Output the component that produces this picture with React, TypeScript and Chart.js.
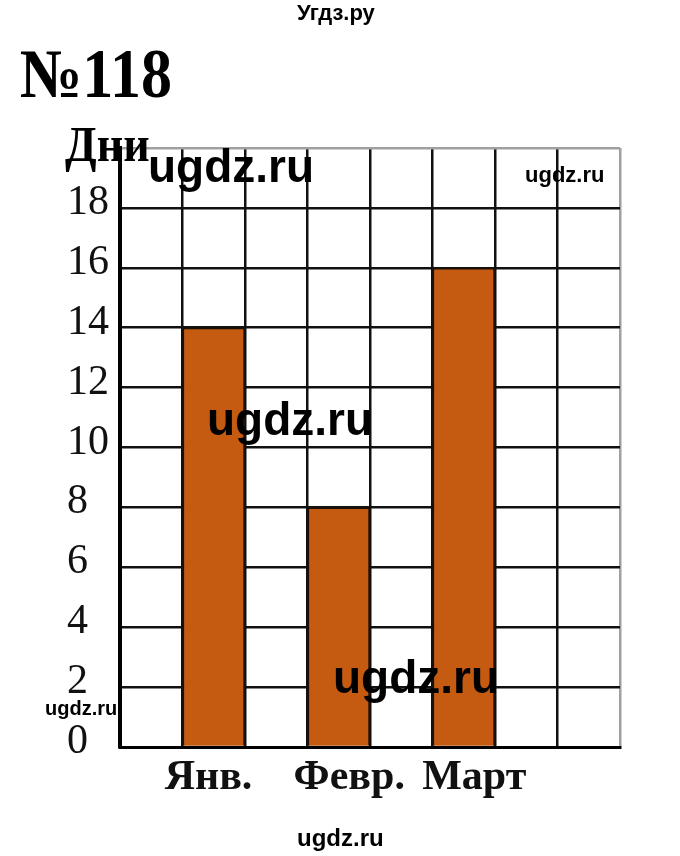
import { useEffect, useRef } from 'react';
import Chart from 'chart.js/auto';

// 8 grid columns, the bars sit in columns 2, 4 and 6
const months = ['', 'Янв.', '', 'Февр.', '', 'Март', '', ''];
const days = [null, 14, null, 8, null, 16, null, null];
const yMax = 20;
const yStep = 2;

const SERIF = '"Liberation Serif", "DejaVu Serif", serif';
const SANS = '"Liberation Sans", Arial, sans-serif';

interface LabelProps {
  text: string;
  x: number;
  y: number;
  size: number;
  family: string;
  bold?: boolean;
  stretch?: number;
}

function Label({ text, x, y, size, family, bold = true, stretch = 1 }: LabelProps) {
  return (
    <div
      style={{
        position: 'absolute',
        left: x,
        top: y,
        fontFamily: family,
        fontSize: size,
        fontWeight: bold ? 700 : 400,
        lineHeight: 1,
        whiteSpace: 'nowrap',
        color: '#000',
        transform: stretch !== 1 ? `scaleY(${stretch})` : undefined,
        transformOrigin: 'left top',
      }}
    >
      {text}
    </div>
  );
}

export default function App() {
  const canvasRef = useRef<HTMLCanvasElement | null>(null);

  useEffect(() => {
    if (!canvasRef.current) return;
    const chart = new Chart(canvasRef.current, {
      type: 'bar',
      data: {
        labels: months,
        datasets: [
          {
            label: 'Дни',
            data: days,
            backgroundColor: '#C55A11',
            borderColor: '#1c1008',
            borderWidth: 2,
            barPercentage: 1,
            categoryPercentage: 1,
          },
        ],
      },
      options: {
        animation: false,
        responsive: false,
        layout: { padding: { top: 148, right: 60, bottom: 0, left: 67 } },
        plugins: { legend: { display: false }, tooltip: { enabled: false } },
        scales: {
          x: {
            offset: true,
            afterFit: (s) => {
              s.height = 109;
            },
            grid: {
              offset: true,
              drawTicks: false,
              lineWidth: 2.5,
              color: (ctx) => (ctx.type === 'tick' ? '#111' : '#a0a0a0'),
            },
            border: { color: '#000', width: 3 },
            ticks: {
              autoSkip: false,
              maxRotation: 0,
              minRotation: 0,
              padding: 6,
              color: '#111',
              font: { family: SERIF, size: 42, weight: 'bold' },
              // in the scan the names sit a bit off the bar centres
              callback: (_v, i) => {
                const name = months[i];
                if (i === 1) return name + '\u2005';
                if (i === 3 || i === 5) return '\u2002' + name;
                return name;
              },
            },
          },
          y: {
            min: 0,
            max: yMax,
            afterFit: (s) => {
              s.width = 53;
            },
            grid: {
              drawTicks: false,
              lineWidth: 2.5,
              color: (ctx) => (ctx.tick && ctx.tick.value === yMax ? '#a0a0a0' : '#111'),
            },
            border: { color: '#000', width: 4 },
            ticks: {
              stepSize: yStep,
              autoSkip: false,
              crossAlign: 'far',
              padding: 0,
              color: '#111',
              font: { family: SERIF, size: 42, lineHeight: '10px' },
              // second empty line lifts the number a little above its grid line
              callback: (v) => (Number(v) === yMax ? '' : [String(v), '']),
            },
          },
        },
      },
    });
    return () => chart.destroy();
  }, []);

  return (
    <div
      style={{
        position: 'absolute',
        left: 0,
        top: 0,
        width: 680,
        height: 856,
        background: '#fff',
        overflow: 'hidden',
      }}
    >
      <canvas
        ref={canvasRef}
        width={680}
        height={856}
        style={{ position: 'absolute', left: 0, top: 0, width: 680, height: 856 }}
      />
      <Label text="Угдз.ру" x={297} y={2} size={22} family={SANS} />
      <Label text="№118" x={20} y={39} size={62} family={SERIF} stretch={1.12} />
      <Label text="Дни" x={65} y={119} size={46} family={SERIF} stretch={1.11} />
      <Label text="ugdz.ru" x={148} y={143} size={46} family={SANS} />
      <Label text="ugdz.ru" x={525} y={164} size={22} family={SANS} />
      <Label text="ugdz.ru" x={207} y={396} size={46} family={SANS} />
      <Label text="ugdz.ru" x={333} y={654} size={46} family={SANS} />
      <Label text="ugdz.ru" x={45} y={698} size={20} family={SANS} />
      <Label text="ugdz.ru" x={297} y={826} size={24} family={SANS} />
    </div>
  );
}
